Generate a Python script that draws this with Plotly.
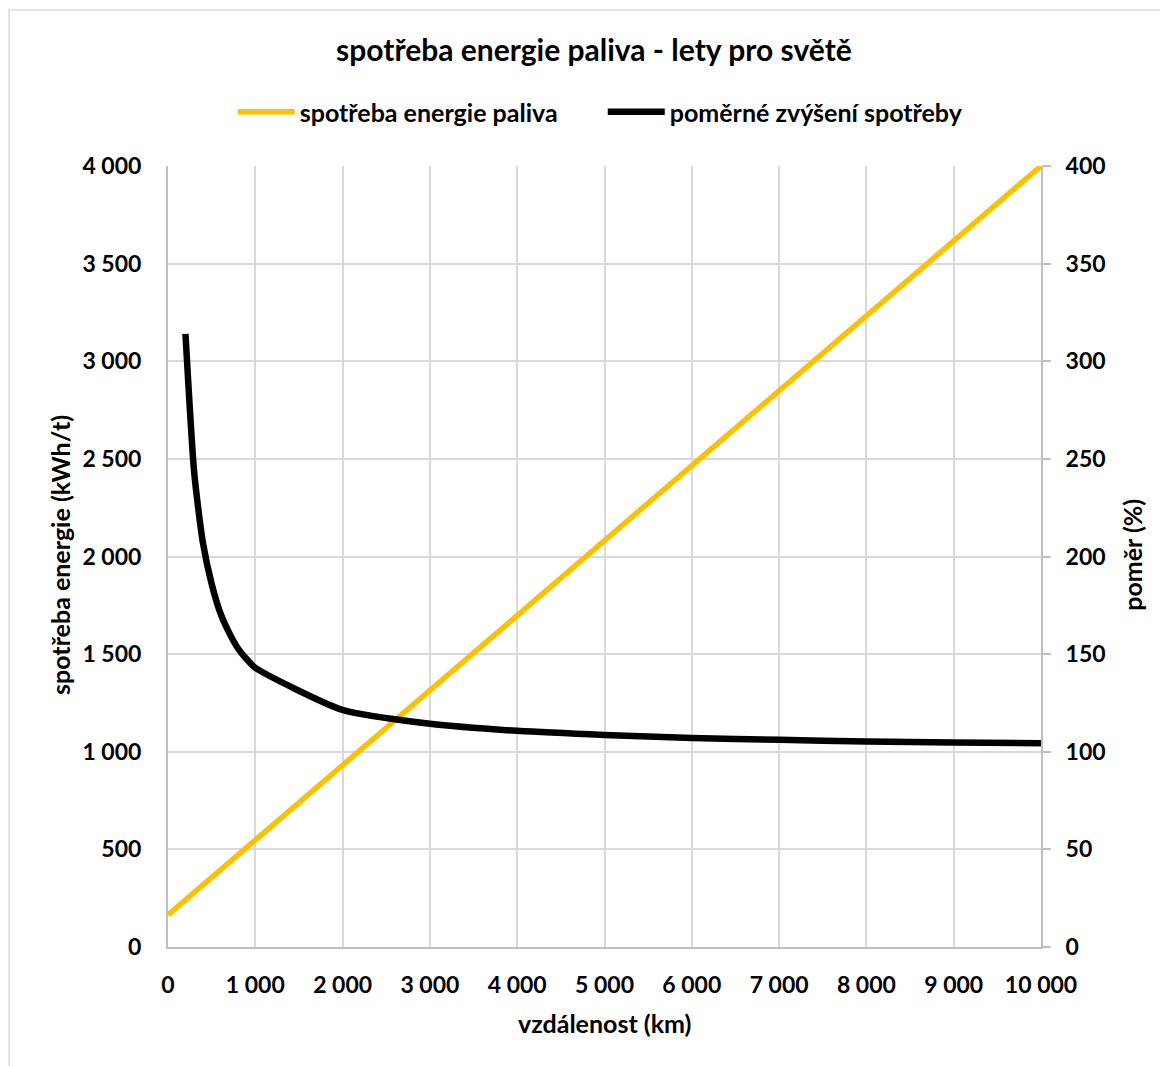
import plotly.graph_objects as go

# Fuel energy consumption vs. flight distance (linear)
energy_km = [0, 1000, 2000, 3000, 4000, 5000, 6000, 7000, 8000, 9000, 10000]
energy_kwh_t = [164, 548, 931, 1315, 1698, 2082, 2466, 2849, 3233, 3616, 4000]

# Relative increase of consumption (%)
ratio_km = [200, 300, 400, 500, 600, 700, 800, 900, 1000,
            2000, 3000, 4000, 5000, 6000, 7000, 8000, 9000, 10000]
ratio_pct = [314, 243, 207, 186, 171, 161, 153, 147.5, 143,
             121.4, 114.3, 110.7, 108.6, 107.1, 106.1, 105.3, 104.8, 104.3]

x_ticks = [0, 1000, 2000, 3000, 4000, 5000, 6000, 7000, 8000, 9000, 10000]

FONT = "Lato"
GRID = "#d9d9d9"
AXIS = "#bfbfbf"


def bold(size):
    return dict(family=FONT, size=size, color="#000000", weight="bold")


fig = go.Figure()
fig.add_trace(go.Scatter(
    x=energy_km, y=energy_kwh_t, mode="lines",
    name="spotřeba energie paliva",
    line=dict(color="#FFC000", width=5.5),
))
fig.add_trace(go.Scatter(
    x=ratio_km, y=ratio_pct, mode="lines", yaxis="y2",
    name="poměrné zvýšení spotřeby",
    line=dict(color="#000000", width=6.5, shape="spline", smoothing=0.6),
))

fig.update_layout(
    width=1160, height=1066,
    margin=dict(l=168, r=119, t=166, b=119),
    paper_bgcolor="white", plot_bgcolor="white",
    separators=", ",
    font=dict(family=FONT, color="#000000"),
    title=dict(
        text="spotřeba energie paliva - lety pro světě",
        x=0.512, xanchor="center", y=1 - 50 / 1066, yanchor="middle",
        font=bold(30),
    ),
    showlegend=True,
    legend=dict(
        orientation="h", x=0.498, xanchor="center", y=1.069, yanchor="middle",
        font=bold(25), itemwidth=57,
        entrywidth=298, entrywidthmode="pixels",
        bgcolor="rgba(0,0,0,0)",
    ),
    xaxis=dict(
        range=[0, 10000], tickvals=x_ticks, tickformat=",d",
        showgrid=True, gridcolor=GRID, gridwidth=2,
        showline=True, linecolor=AXIS, linewidth=2,
        ticks="", zeroline=False, tickfont=bold(23),
        ticklabelstandoff=16,
    ),
    yaxis=dict(
        range=[0, 4000], dtick=500, tickformat=",d",
        showgrid=True, gridcolor=GRID, gridwidth=2,
        showline=True, linecolor=AXIS, linewidth=2,
        ticks="", zeroline=False, tickfont=bold(23),
        ticklabelstandoff=20,
    ),
    yaxis2=dict(
        range=[0, 400], dtick=50, overlaying="y", side="right",
        showgrid=False, zeroline=False,
        showline=True, linecolor=AXIS, linewidth=2,
        ticks="outside", ticklen=8, tickcolor=AXIS, tickwidth=2,
        tickfont=bold(23), ticklabelstandoff=10,
    ),
    annotations=[
        dict(text="vzdálenost (km)", xref="paper", yref="paper",
             x=0.5, y=-0.0973, xanchor="center", yanchor="middle",
             showarrow=False, font=bold(25)),
        dict(text="spotřeba energie (kWh/t)", xref="paper", yref="paper",
             x=-0.1237, y=0.502, xanchor="center", yanchor="middle",
             textangle=-90, showarrow=False, font=bold(25)),
        dict(text="poměr (%)", xref="paper", yref="paper",
             x=1.104, y=0.502, xanchor="center", yanchor="middle",
             textangle=-90, showarrow=False, font=bold(25)),
    ],
    shapes=[
        dict(type="rect", xref="paper", yref="paper",
             x0=-0.182, x1=1.5, y0=-0.5, y1=1.1997,
             line=dict(color=GRID, width=1.5), fillcolor="rgba(0,0,0,0)",
             layer="below"),
    ],
)

fig.write_html("out.html")
